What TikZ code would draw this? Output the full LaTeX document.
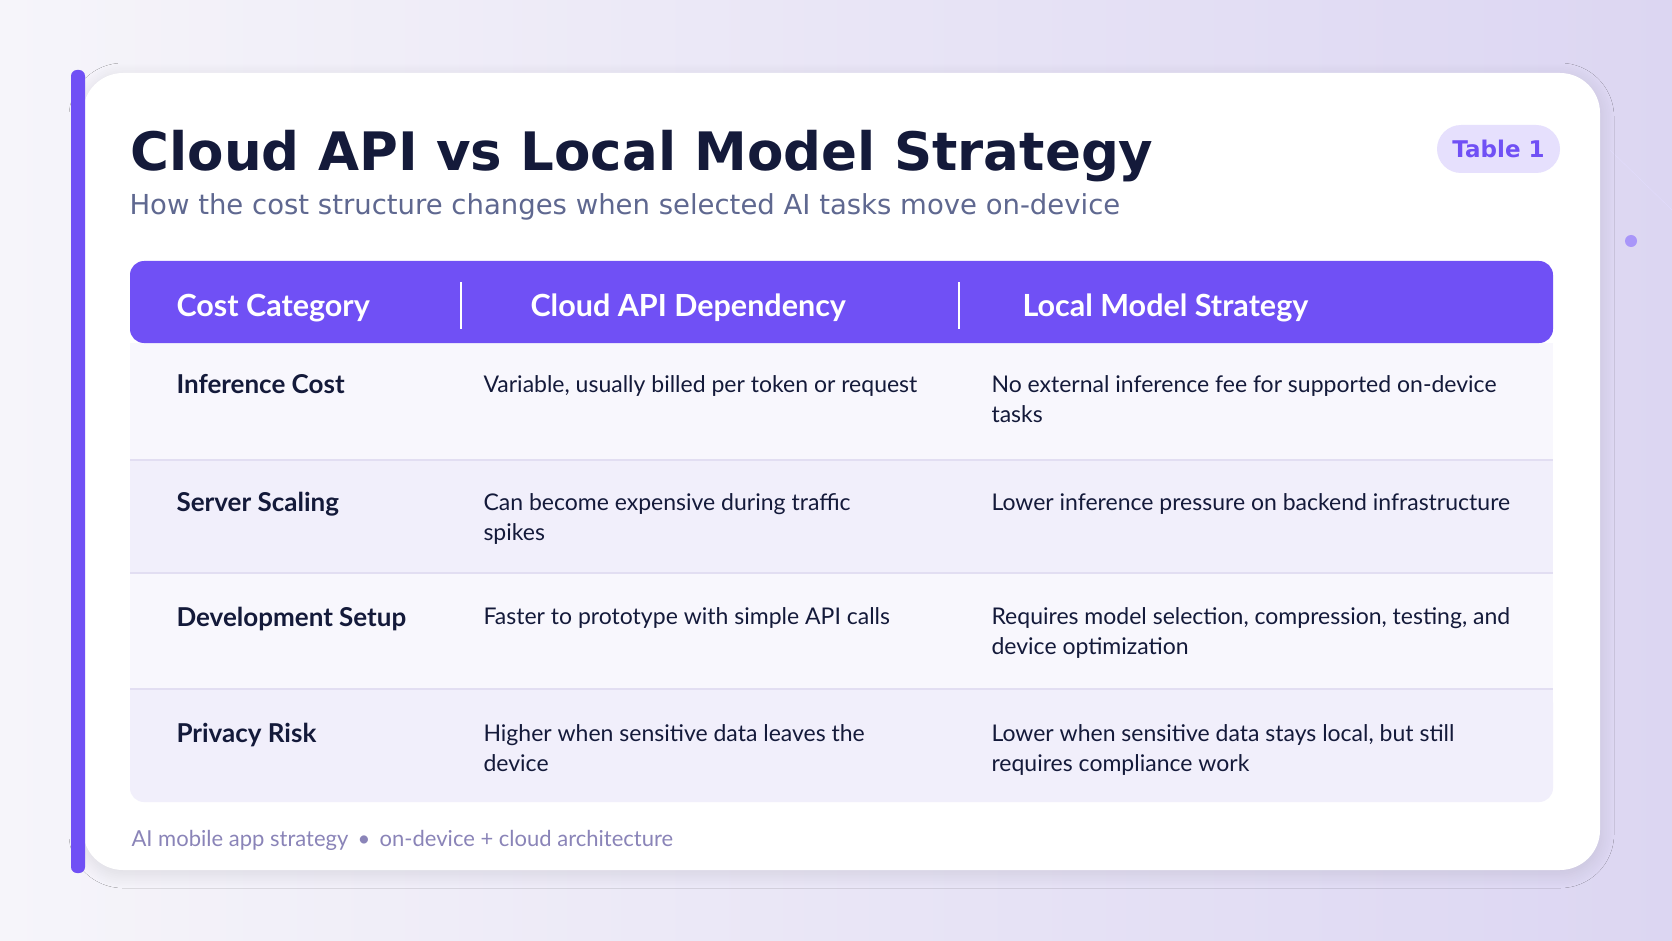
\documentclass[tikz,border=0pt]{standalone}
\usepackage{fontspec}
\setmainfont{Lato}
\newfontfamily\dejavu{DejaVu Sans}
\usetikzlibrary{shadows.blur}
\definecolor{bgA}{HTML}{F6F5FA}
\definecolor{bgB}{HTML}{DCD6F2}
\definecolor{accent}{HTML}{7050F5}
\definecolor{ink}{HTML}{141A3A}
\definecolor{sub}{HTML}{5F6890}
\definecolor{rowA}{HTML}{F8F7FD}
\definecolor{rowB}{HTML}{F1EFFB}
\definecolor{lineC}{HTML}{E2DEF2}
\definecolor{pill}{HTML}{E6E0FD}
\definecolor{foot}{HTML}{8A84B8}
\tikzset{
 hdr/.style={anchor=base west,text=white,font=\fontsize{30.5}{34}\selectfont\bfseries},
 lab/.style={anchor=base west,text=ink,font=\fontsize{26}{30}\selectfont\bfseries},
 cell/.style={anchor=base west,text=ink,font=\fontsize{23}{30}\selectfont,align=left},
}
\begin{document}
\begin{tikzpicture}[x=1pt,y=-1pt]
\shade[left color=bgA,right color=bgB] (0,0) rectangle (1672,941);
\useasboundingbox (0,0) rectangle (1672,941);
\fill[accent!60] (1631,241) circle (6);
\draw[accent!20] (1610,150) -- (1672,210);
% card
\fill[white,rounded corners=40,blur shadow={shadow blur steps=20,shadow blur radius=14pt,shadow xshift=0pt,shadow yshift=-4pt,shadow opacity=10}] (83,73) rectangle (1600,870);
\fill[accent,rounded corners=6] (71,70) rectangle (85,873);
% title
\node[anchor=base west,text=ink,font=\dejavu\fontsize{53}{60}\selectfont\bfseries] (title) at (127,171) {Cloud API vs Local Model Strategy};
\node[anchor=base west,text=sub,font=\dejavu\fontsize{27.5}{32}\selectfont] (subt) at (126,215) {How the cost structure changes when selected AI tasks move on-device};
\fill[pill,rounded corners=24] (1437,125) rectangle (1560,173);
\node[text=accent,font=\dejavu\fontsize{23}{28}\selectfont\bfseries] (tbl) at (1498.5,149) {Table 1};
% rows
\fill[rowA] (130,343) rectangle (1553,460);
\fill[rowB] (130,460) rectangle (1553,573);
\fill[rowA] (130,573) rectangle (1553,689);
\fill[rowB,rounded corners=14] (130,689) rectangle (1553,802);
\fill[rowB] (130,689) rectangle (1553,710);
\draw[lineC,line width=1.2] (130,460) -- (1553,460);
\draw[lineC,line width=1.2] (130,573) -- (1553,573);
\draw[lineC,line width=1.2] (130,689) -- (1553,689);
% header
\fill[accent,rounded corners=14] (130,261) rectangle (1553,343);
\draw[white,line width=1.5] (461,282) -- (461,329);
\draw[white,line width=1.5] (959,282) -- (959,329);
\node[hdr] (h1) at (173,316) {Cost Category};
\node[hdr] (h2) at (527,316) {Cloud API Dependency};
\node[hdr] (h3) at (1019,316) {Local Model Strategy};
% body
\node[lab] (l1) at (173,393) {Inference Cost};
\node[lab] (l2) at (173,511) {Server Scaling};
\node[lab] (l3) at (173,626) {Development Setup};
\node[lab] (l4) at (173,742) {Privacy Risk};
\node[cell] (a1) at (480,392) {Variable, usually billed per token or request};
\node[cell] (a2) at (480,540) {Can become expensive during traffic\\spikes};
\node[cell] (a3) at (480,624) {Faster to prototype with simple API calls};
\node[cell] (a4) at (480,771) {Higher when sensitive data leaves the\\device};
\node[cell] (b1) at (988,422) {No external inference fee for supported on-device\\tasks};
\node[cell] (b2) at (988,510) {Lower inference pressure on backend infrastructure};
\node[cell] (b3) at (988,654) {Requires model selection, compression, testing, and\\device optimization};
\node[cell] (b4) at (988,771) {Lower when sensitive data stays local, but still\\requires compliance work};
\node[anchor=base west,text=foot,font=\fontsize{22}{24}\selectfont] (ft) at (128,846) {AI mobile app strategy \,\textbullet\, on-device + cloud architecture};
\end{tikzpicture}
\end{document}
